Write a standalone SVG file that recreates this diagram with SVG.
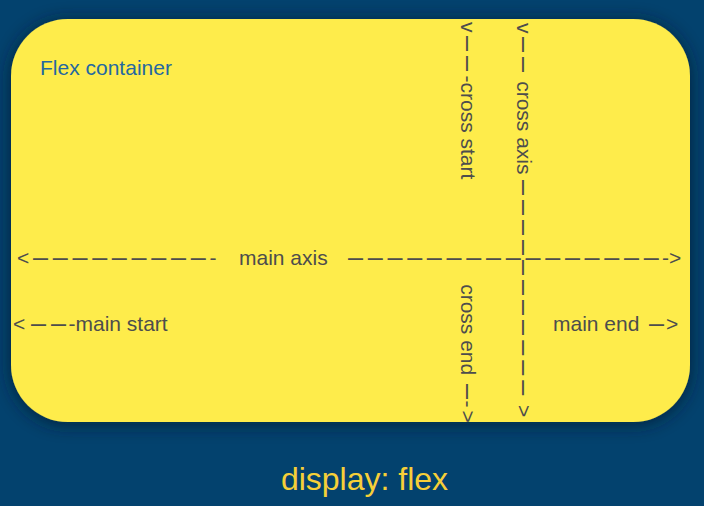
<svg xmlns="http://www.w3.org/2000/svg" width="704" height="506" viewBox="0 0 704 506">
  <defs>
    <filter id="shadow" x="-10%" y="-10%" width="120%" height="125%">
      <feDropShadow dx="0" dy="2" stdDeviation="9" flood-color="#001a33" flood-opacity="0.85"/>
    </filter>
    <style>
      .t { font-family: "Liberation Sans", Arial, Helvetica, sans-serif; font-size: 21px; fill: #4d4d4d; }
      .d { font-size: 27px; letter-spacing: 5px; }
      .d1 { font-size: 27px; letter-spacing: 0px; }
      .title { font-family: "Liberation Sans", Arial, Helvetica, sans-serif; font-size: 21px; fill: #2468a0; }
      .caption { font-family: "Liberation Sans", Arial, Helvetica, sans-serif; font-size: 32px; fill: #f6cf38; }
    </style>
  </defs>
  <rect x="0" y="0" width="704" height="506" fill="#03426e"/>

  <g id="flex-container">
    <rect x="11" y="19" width="679" height="403" rx="57" ry="57" fill="#feec4b" filter="url(#shadow)"/>
    <text class="title" x="40" y="75">Flex container</text>
  </g>

  <g id="connectors">
    <g id="main-axis">
      <text class="t" y="264.5"><tspan x="17">&lt;</tspan><tspan class="d" x="33" dy="1.5" style="letter-spacing:4.7px">–––––––––</tspan><tspan x="209.5" dy="-1.5">-</tspan><tspan x="239">main axis</tspan><tspan class="d" x="348" dy="1.5" style="letter-spacing:4.7px">––––––––––––––––</tspan><tspan x="662" dy="-1.5">-&gt;</tspan></text>
    </g>
    <g id="main-start">
      <text class="t" y="330.5"><tspan x="13">&lt;</tspan><tspan class="d" x="31" dy="1.5">––</tspan><tspan x="68.5" dy="-1.5">-main start</tspan></text>
    </g>
    <g id="main-end">
      <text class="t" y="330.5"><tspan x="553">main end</tspan><tspan class="d1" x="649" dy="1.5">–</tspan><tspan x="666" dy="-1.5">&gt;</tspan></text>
    </g>
    <g id="cross-start">
      <text class="t" transform="translate(461,0) rotate(90)" y="0"><tspan x="22">v</tspan><tspan class="d" x="36" dy="1.5">––</tspan><tspan x="75.5" dy="-1.5">-cross start</tspan></text>
    </g>
    <g id="cross-axis">
      <text class="t" transform="translate(517,0) rotate(90)" y="0"><tspan x="23">v</tspan><tspan class="d" x="37" dy="1.5">––</tspan><tspan x="81.2" dy="-1.5">cross axis</tspan><tspan class="d" x="180" dy="1.5">–––––––––––</tspan><tspan x="405" dy="-1.5">&gt;</tspan></text>
    </g>
    <g id="cross-end">
      <text class="t" transform="translate(461,0) rotate(90)" y="0"><tspan x="284.2">cross end</tspan><tspan class="d1" x="384" dy="1.5">–</tspan><tspan x="400.5" dy="-1.5">-</tspan><tspan x="410.5">&gt;</tspan></text>
    </g>
  </g>

  <g id="caption">
    <text class="caption" x="364.5" y="490" text-anchor="middle">display: flex</text>
  </g>
</svg>
